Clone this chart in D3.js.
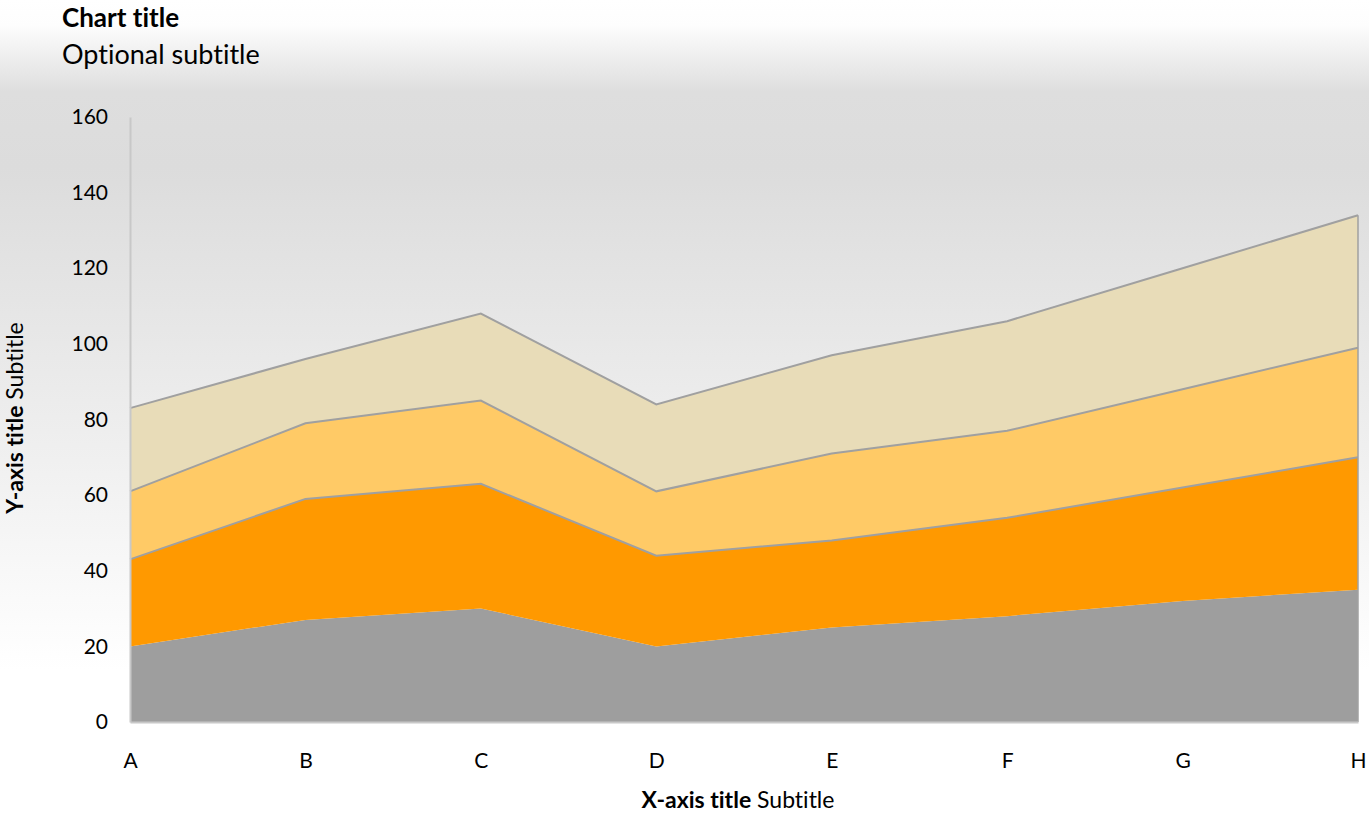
<!DOCTYPE html>
<html><head><meta charset="utf-8">
<script src="https://cdn.jsdelivr.net/npm/d3@7"></script>
<style>html,body{margin:0;padding:0;}svg{display:block;}text{font-variant-ligatures:none;}</style>
</head><body>
<script>
const categories = ["A","B","C","D","E","F","G","H"];
const series1 = [20, 27, 30, 20, 25, 28, 32, 35];
const series2 = [23, 32, 33, 24, 23, 26, 30, 35];
const series3 = [18, 20, 22, 17, 23, 23, 26, 29];
const series4 = [22, 17, 23, 23, 26, 29, 32, 35];
const yTicks = [0, 20, 40, 60, 80, 100, 120, 140, 160];
const colors = ["#9e9e9e", "#ff9900", "#ffca66", "#e8dcb8"];

(function(){
const W = 1369, H = 837;
const mLeft = 130, mRight = 1358, mTop = 117, mBottom = 722;
const svg = d3.select("body").append("svg").attr("width", W).attr("height", H);
const defs = svg.append("defs");
const g = defs.append("linearGradient").attr("id","bg").attr("x1",0).attr("y1",0).attr("x2",0).attr("y2",1);
g.append("stop").attr("offset","0%").attr("stop-color","#ffffff");
g.append("stop").attr("offset","3%").attr("stop-color","#fdfdfd");
g.append("stop").attr("offset","11%").attr("stop-color","#dedede");
g.append("stop").attr("offset","20%").attr("stop-color","#dcdcdc");
g.append("stop").attr("offset","55%").attr("stop-color","#f0f0f0");
g.append("stop").attr("offset","80%").attr("stop-color","#ffffff");
g.append("stop").attr("offset","100%").attr("stop-color","#ffffff");
svg.append("rect").attr("width",W).attr("height",H).attr("fill","url(#bg)");

const font = "Lato, 'Open Sans', sans-serif";
const x = d3.scalePoint().domain(categories).range([mLeft, mRight]);
const y = d3.scaleLinear().domain([0,160]).range([mBottom, mTop]);

const data = categories.map((c,i)=>({cat:c, s1:series1[i], s2:series2[i], s3:series3[i], s4:series4[i]}));
const stack = d3.stack().keys(["s1","s2","s3","s4"]);
const layers = stack(data);

const area = d3.area().x(d=>x(d.data.cat)).y0(d=>y(d[0])).y1(d=>y(d[1]));
const line = d3.line().x(d=>x(d.data.cat)).y(d=>y(d[1]));

svg.append("g").selectAll("path").data(layers).join("path")
  .attr("d", area).attr("fill",(d,i)=>colors[i]);

svg.append("g").selectAll("path").data(layers.slice(1)).join("path")
  .attr("d", line).attr("fill","none").attr("stroke","#a0a0a0").attr("stroke-width",2);
const last = layers[3][layers[3].length-1];
svg.append("line").attr("x1",x("H")).attr("x2",x("H")).attr("y1",y(last[1])).attr("y2",y(0))
  .attr("stroke","#a0a0a0").attr("stroke-width",1.5);

const yAxis = d3.axisLeft(y).tickValues(yTicks).tickSize(0).tickPadding(22);
const ya = svg.append("g").attr("transform",`translate(${mLeft},0)`).call(yAxis);
ya.select(".domain").attr("stroke","#c8c8c8").attr("stroke-width",2);
ya.selectAll("text").attr("font-family",font).attr("font-size",21).attr("fill","#000");

const xAxis = d3.axisBottom(x).tickSize(0).tickPadding(31);
const xa = svg.append("g").attr("transform",`translate(0,${mBottom})`).call(xAxis);
xa.select(".domain").attr("stroke","#c8c8c8").attr("stroke-width",2);
xa.selectAll("text").attr("font-family",font).attr("font-size",21).attr("fill","#000");

svg.append("text").attr("x",62).attr("y",27).attr("font-family",font).attr("font-size",26)
  .attr("font-weight","bold").text("Chart title");
svg.append("text").attr("x",62).attr("y",64).attr("font-family",font).attr("font-size",27)
  .text("Optional subtitle");

const xt = svg.append("text").attr("x",738).attr("y",808).attr("text-anchor","middle")
  .attr("font-family",font).attr("font-size",23);
xt.append("tspan").attr("font-weight","bold").text("X-axis title");
xt.append("tspan").text(" Subtitle");

const yt = svg.append("text").attr("transform","translate(23,418) rotate(-90)").attr("text-anchor","middle")
  .attr("font-family",font).attr("font-size",23);
yt.append("tspan").attr("font-weight","bold").text("Y-axis title");
yt.append("tspan").text(" Subtitle");
})();
</script>
</body></html>
